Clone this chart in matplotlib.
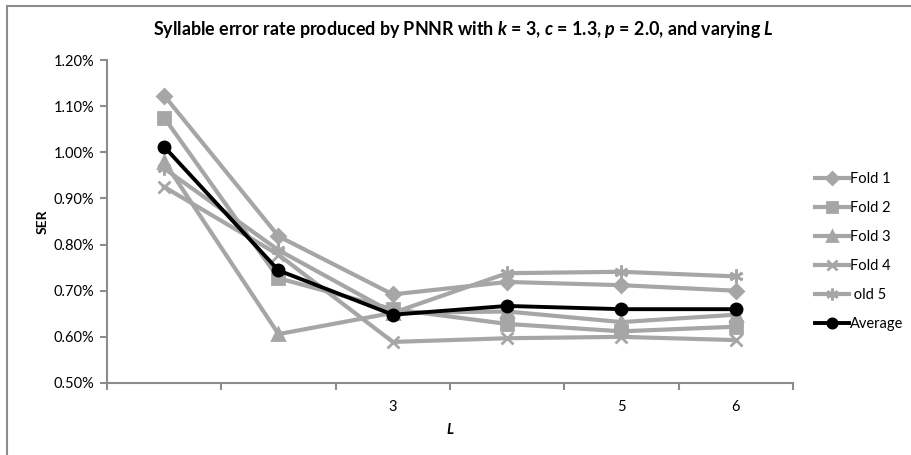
import numpy as np
import matplotlib
matplotlib.use("Agg")
import matplotlib.pyplot as plt
from matplotlib.patches import Rectangle

plt.rcParams['font.family'] = ['Lato', 'DejaVu Sans']
plt.rcParams['mathtext.fontset'] = 'custom'
plt.rcParams['mathtext.rm'] = 'Lato:bold'
plt.rcParams['mathtext.bfit'] = 'Lato:bold:italic'
plt.rcParams['mathtext.it'] = 'Lato:italic'

# data (SER in %)
L_pos = [1, 2, 3, 4, 5, 6]
L_labels = ['', '', '3', '', '5', '6']
fold1 = [1.123, 0.818, 0.692, 0.719, 0.712, 0.700]
fold2 = [1.075, 0.727, 0.660, 0.628, 0.612, 0.622]
fold3 = [0.980, 0.606, 0.652, 0.655, 0.632, 0.648]
fold4 = [0.925, 0.778, 0.589, 0.597, 0.600, 0.593]
fold5 = [0.965, 0.788, 0.652, 0.738, 0.741, 0.731]
average = [1.012, 0.744, 0.648, 0.667, 0.660, 0.660]
names = ['Fold 1', 'Fold 2', 'Fold 3', 'Fold 4', ' old 5']

gray = '#A6A6A6'
axcol = '#8C8C8C'

fig = plt.figure(figsize=(9.12, 4.55), dpi=100)
# outer chart border
fig.patches.append(Rectangle((7/912, -0.1), 1.2, 1 - 6/455 + 0.1, transform=fig.transFigure,
                             fill=False, edgecolor=axcol, linewidth=1.5))
ax = fig.add_axes([107/912, 1 - 383/455, (793 - 107)/912, 323/455])

markers = ['D', 's', '^', 'x', (6, 2, 0)]
msizes = [7, 8, 8, 9, 10]
for vals, name, m, ms in zip([fold1, fold2, fold3, fold4, fold5], names, markers, msizes):
    ax.plot(L_pos, vals, color=gray, lw=3, marker=m, ms=ms, mew=2,
            mfc=gray, mec=gray, label=name)
ax.plot(L_pos, average, color='black', lw=2.8, marker='o', ms=9, label='Average')

ax.set_xlim(0.5, 6.5)
ax.set_ylim(0.5, 1.2)
ax.set_yticks(np.arange(0.5, 1.201, 0.1))
ax.set_yticklabels([f'{v:.2f}%' for v in np.arange(0.5, 1.201, 0.1)])
ax.set_xticks(L_pos)
ax.set_xticklabels(L_labels)
ax.set_xticks(np.arange(0.5, 6.6, 1), minor=True)
ax.tick_params(axis='x', which='major', length=0, pad=12, labelsize=10.5)
ax.tick_params(axis='x', which='minor', length=5, width=1.5, color=axcol, direction='out')
ax.tick_params(axis='y', length=5, width=1.5, color=axcol, labelsize=10.5, pad=4)

for s in ['top', 'right']:
    ax.spines[s].set_visible(False)
for s in ['left', 'bottom']:
    ax.spines[s].set_color(axcol)
    ax.spines[s].set_linewidth(1.5)

ax.set_ylabel('SER', fontweight='bold', fontsize=10, labelpad=4)
ax.set_xlabel(r'$\mathbfit{L}$', fontsize=10.5, labelpad=6)
fig.text(463/912, 1 - 30/455,
         r'Syllable error rate produced by PNNR with $\mathbfit{k}$ = 3, $\mathbfit{c}$ = 1.3, '
         r'$\mathbfit{p}$ = 2.0, and varying $\mathbfit{L}$',
         ha='center', va='center', fontsize=12.9, fontweight='bold')

ax.legend(loc='upper left', bbox_to_anchor=(815/912, 1 - 172/455), bbox_transform=fig.transFigure,
          frameon=False, fontsize=10.5, handlelength=2.3, handletextpad=0.1,
          labelspacing=1.03, borderaxespad=0, borderpad=0, markerscale=0.85)

fig.savefig('out.png', dpi=100)
